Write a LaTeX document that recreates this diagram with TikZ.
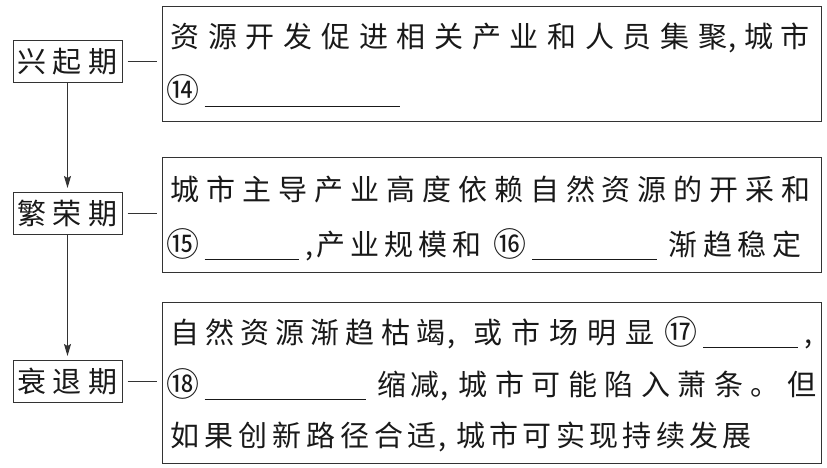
\documentclass[tikz,border=0pt]{standalone}
\usepackage{fontspec}
\setmainfont{Noto Sans CJK SC}
\usetikzlibrary{arrows.meta}
\newcommand\ls[2]{{\addfontfeatures{LetterSpace=#1}#2}}
\newcommand\blank[1]{\rule[-5pt]{#1pt}{1pt}}
\newcommand\cnum[1]{\raisebox{-1pt}{\fontsize{33}{33}\selectfont#1}}
\begin{document}
\begin{tikzpicture}[x=1pt, y=-1pt, line width=1pt, draw=black!80, text=black!90,
    stage/.style={draw, minimum width=109pt, minimum height=42pt, inner sep=0pt, font=\fontsize{29}{29}\selectfont},
    panel/.style={draw, line width=1.3pt, anchor=north west, inner sep=0pt, minimum width=659pt},
    txt/.style={anchor=base west, inner sep=0pt, font=\fontsize{29}{29}\selectfont}]
        \useasboundingbox (0,0) rectangle (827,468);
        \node[stage] (S1) at (67.5,62) {\ls{21}{兴起期}};
        \node[stage] (S2) at (67.5,213.5) {\ls{21}{繁荣期}};
        \node[stage] (S3) at (67.5,381.5) {\ls{21}{衰退期}};
        \node[panel, minimum height=115pt] (P1) at (162,6) {};
        \node[panel, minimum height=115pt] (P2) at (162,157) {};
        \node[panel, minimum height=161pt] (P3) at (162,302) {};
        \draw[shorten <=5pt, shorten >=5pt] (S1.east) -- (S1.east -| P1.west);
        \draw[shorten <=5pt, shorten >=5pt] (S2.east) -- (S2.east -| P2.west);
        \draw[shorten <=5pt, shorten >=5pt] (S3.east) -- (S3.east -| P3.west);
        \draw[-{Stealth[length=12pt, width=7pt, inset=2pt]}, shorten >=4pt] (S1) -- (S2);
        \draw[-{Stealth[length=12pt, width=7pt, inset=2pt]}, shorten >=4pt] (S2) -- (S3);
        % stage 1
        \node[txt] (t11) at (170,48) {\ls{30}{资源开发促进相关产业和人员集聚}\hspace{1pt},\hspace{8pt}\ls{24}{城市}};
        \node[txt] (t12) at (170,102) {\hspace{-4pt}\cnum{⑭}\hspace{5pt}\blank{195}};
        % stage 2
        \node[txt] (t21) at (170,200) {\ls{24}{城市主导产业高度依赖自然资源的开采和}};
        \node[txt] (t22) at (170,255) {\hspace{-4pt}\cnum{⑮}\hspace{5pt}\blank{94}\hspace{7pt},\hspace{3pt}\ls{17}{产业规模和}\hspace{12pt}\cnum{⑯}\hspace{6pt}\blank{125}\hspace{11pt}\ls{20}{渐趋稳定}};
        % stage 3
        \node[txt] (t31) at (170,343) {\ls{21}{自然资源渐趋枯竭}\hspace{2pt},\hspace{18pt}\ls{31}{或市场明显}\hspace{10pt}\cnum{⑰}\hspace{6pt}\blank{95}\hspace{6pt},};
        \node[txt] (t32) at (170,395) {\hspace{-4pt}\cnum{⑱}\hspace{5pt}\blank{161}\hspace{12pt}\ls{14}{缩减}\hspace{1pt},\hspace{10pt}\ls{26}{城市可能陷入萧条。但}};
        \node[txt] (t33) at (170,446) {\ls{17}{如果创新路径合适}\hspace{2pt},\hspace{9pt}\ls{15}{城市可实现持续发展}};
    \end{tikzpicture}
\end{document}
